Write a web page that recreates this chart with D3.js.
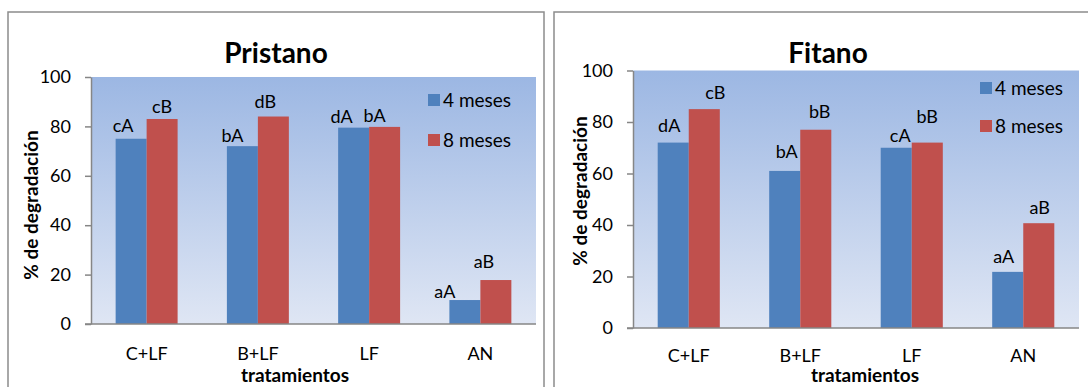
<!DOCTYPE html>
<html>
<head>
<meta charset="utf-8">
<style>
  body { margin: 0; background: #fff; }
  svg { display: block; font-family: Lato, "Open Sans", sans-serif; }
</style>
</head>
<body>
<div class="container"></div>
<script src="https://d3js.org/d3.v7.min.js"></script>
<script>
// data
var categories = ['C+LF', 'B+LF', 'LF', 'AN'];
var seriesNames = ['4 meses', '8 meses'];
var yTicks = [0, 20, 40, 60, 80, 100];

var pristano4 = [75, 72, 79.5, 9.7];
var pristano8 = [83, 84, 79.8, 17.8];
var pristanoLetters4 = ['cA', 'bA', 'dA', 'aA'];
var pristanoLetters8 = ['cB', 'dB', 'bA', 'aB'];

var fitano4 = [72, 61, 70, 21.8];
var fitano8 = [85, 77, 72, 40.7];
var fitanoLetters4 = ['dA', 'bA', 'cA', 'aA'];
var fitanoLetters8 = ['cB', 'bB', 'bB', 'aB'];

var colors = ['#4f81bd', '#c0504d'];

var svg = d3.select('.container').append('svg')
    .attr('width', 1088)
    .attr('height', 387);

var defs = svg.append('defs');
var grad = defs.append('linearGradient')
    .attr('id', 'plotbg')
    .attr('x1', 0).attr('y1', 0).attr('x2', 0).attr('y2', 1);
grad.append('stop').attr('offset', '0%').attr('stop-color', '#9cb7e3');
grad.append('stop').attr('offset', '100%').attr('stop-color', '#dfe6f4');

// panel frames
svg.append('rect').attr('x', 8).attr('y', 12).attr('width', 536).attr('height', 420)
    .attr('fill', '#fff').attr('stroke', '#8c8c8c').attr('stroke-width', 1.5);
svg.append('rect').attr('x', 554).attr('y', 12).attr('width', 560).attr('height', 420)
    .attr('fill', '#fff').attr('stroke', '#8c8c8c').attr('stroke-width', 1.5);

// hand-placed data label nudges (dx from bar centre, dy from bar top)
var pristanoNudge = [
  [[-8, -7], [0, -6]], [[-10, -4], [-8, -9]], [[-12, -5], [-10, -5]], [[-20, -2], [-12, -12]]
];
var fitanoNudge = [
  [[-4, -11], [11, -10]], [[2, -13], [4, -12]], [[4, -6], [0, -20]], [[-4, -9], [1, -9]]
];

function drawPanel(cfg) {
  var g = svg.append('g');

  var x = d3.scaleBand()
      .domain(categories)
      .range([cfg.x0, cfg.x1])
      .paddingInner(0.443)
      .paddingOuter(0.2215);
  var xs = d3.scaleBand()
      .domain([0, 1])
      .range([0, x.bandwidth()]);
  var y = d3.scaleLinear()
      .domain([0, 100])
      .range([cfg.yBot, cfg.yTop]);

  g.append('rect')
      .attr('x', cfg.x0).attr('y', cfg.yTop)
      .attr('width', cfg.x1 - cfg.x0).attr('height', cfg.yBot - cfg.yTop)
      .attr('fill', 'url(#plotbg)');

  var series = [cfg.v4, cfg.v8];
  var letters = [cfg.l4, cfg.l8];

  series.forEach(function(vals, s) {
    g.selectAll('.bar' + s)
      .data(vals)
      .enter().append('rect')
        .attr('x', function(d, i) { return x(categories[i]) + xs(s); })
        .attr('y', function(d) { return y(d); })
        .attr('width', xs.bandwidth())
        .attr('height', function(d) { return y(0) - y(d); })
        .attr('fill', colors[s]);

    g.selectAll('.lab' + s)
      .data(vals)
      .enter().append('text')
        .attr('x', function(d, i) { return x(categories[i]) + xs(s) + xs.bandwidth() / 2 + cfg.nudge[i][s][0]; })
        .attr('y', function(d, i) { return y(d) + cfg.nudge[i][s][1]; })
        .attr('text-anchor', 'middle')
        .attr('font-size', 18)
        .text(function(d, i) { return letters[s][i]; });
  });

  // y axis
  var yAxis = g.append('g')
      .attr('transform', 'translate(' + cfg.x0 + ',0)')
      .call(d3.axisLeft(y).tickValues(yTicks).tickSize(6).tickPadding(cfg.tickPad).tickSizeOuter(0));
  yAxis.selectAll('path, line').attr('stroke', '#868686').attr('stroke-width', 1.5);
  yAxis.selectAll('text').attr('font-size', 18).attr('fill', '#000').attr('font-family', 'Lato');

  // x axis line
  g.append('line')
      .attr('x1', cfg.x0 - 6).attr('x2', cfg.x1)
      .attr('y1', cfg.yBot).attr('y2', cfg.yBot)
      .attr('stroke', '#868686').attr('stroke-width', 1.5);

  g.selectAll('.cat')
    .data(categories)
    .enter().append('text')
      .attr('x', function(d) { return x(d) + x.bandwidth() / 2; })
      .attr('y', cfg.catY)
      .attr('text-anchor', 'middle')
      .attr('font-size', 18)
      .text(function(d) { return d; });

  // titles
  g.append('text')
      .attr('x', cfg.titleX).attr('y', 63)
      .attr('text-anchor', 'middle')
      .attr('font-size', 28).attr('font-weight', 'bold')
      .text(cfg.title);
  g.append('text')
      .attr('transform', 'translate(' + cfg.yTitleX + ',' + cfg.yTitleY + ') rotate(-90)')
      .attr('text-anchor', 'middle')
      .attr('font-size', 19).attr('font-weight', 'bold')
      .text('% de degradación');
  g.append('text')
      .attr('x', cfg.xTitleX).attr('y', cfg.xTitleY)
      .attr('text-anchor', 'middle')
      .attr('font-size', 19).attr('font-weight', 'bold')
      .text('tratamientos');

  // legend
  seriesNames.forEach(function(name, s) {
    var ly = cfg.legY[s];
    g.append('rect')
        .attr('x', cfg.legX).attr('y', ly)
        .attr('width', 12).attr('height', 12)
        .attr('fill', colors[s]);
    g.append('text')
        .attr('x', cfg.legX + 15).attr('y', ly + 13)
        .attr('font-size', 19)
        .text(name);
  });
}

drawPanel({
  title: 'Pristano', v4: pristano4, v8: pristano8, l4: pristanoLetters4, l8: pristanoLetters8,
  nudge: pristanoNudge,
  x0: 91, x1: 536, yTop: 77, yBot: 324, tickPad: 14,
  catY: 360, titleX: 276, yTitleX: 38, yTitleY: 205, xTitleX: 295, xTitleY: 382,
  legX: 428, legY: [94, 134]
});

drawPanel({
  title: 'Fitano', v4: fitano4, v8: fitano8, l4: fitanoLetters4, l8: fitanoLetters8,
  nudge: fitanoNudge,
  x0: 633, x1: 1079, yTop: 70.5, yBot: 328, tickPad: 14,
  catY: 362, titleX: 828, yTitleX: 587, yTitleY: 191, xTitleX: 865, xTitleY: 382,
  legX: 980, legY: [82, 120]
});
</script>
</body>
</html>
